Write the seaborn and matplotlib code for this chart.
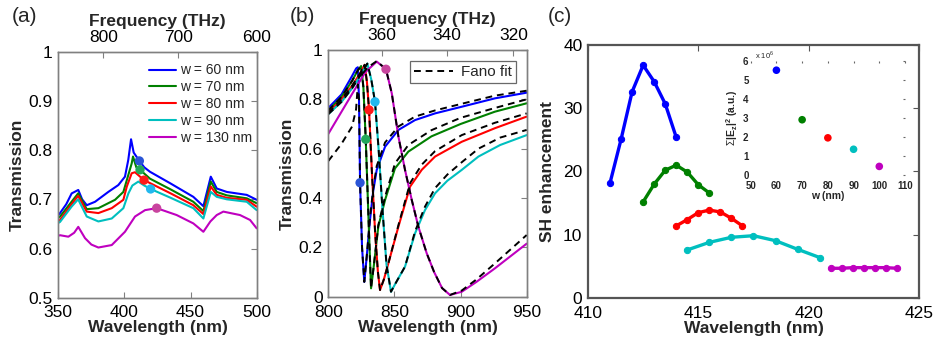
import numpy as np
import pandas as pd
import matplotlib
matplotlib.use("Agg")
import matplotlib.pyplot as plt
import seaborn as sns
from matplotlib.lines import Line2D

# ---------------- DATA ----------------
# Panel (a): transmission spectra
widths = ["w = 60 nm", "w = 70 nm", "w = 80 nm", "w = 90 nm", "w = 130 nm"]
a_lam60 = [350, 351.3, 356, 360.1, 365.1, 368, 371.5, 377.8, 387.8, 395.4, 400.4, 402.9, 405, 407, 411.3, 415, 419.3, 435, 452.1, 459.7, 465.3, 469.8, 477.4, 492.5, 500]
a_T60 = [0.668, 0.672, 0.69, 0.712, 0.719, 0.70, 0.688, 0.695, 0.715, 0.729, 0.746, 0.78, 0.822, 0.795, 0.778, 0.765, 0.756, 0.732, 0.705, 0.686, 0.746, 0.722, 0.715, 0.709, 0.699]
a_lam70 = [350, 351.3, 360, 365, 371.5, 380.3, 392.9, 399.2, 401.8, 405.5, 406.5, 409, 411.8, 419.3, 435, 452.1, 459.7, 465.3, 469.8, 477.4, 492.5, 500]
a_T70 = [0.662, 0.665, 0.695, 0.712, 0.68, 0.682, 0.699, 0.715, 0.739, 0.773, 0.787, 0.765, 0.760, 0.742, 0.72, 0.695, 0.676, 0.736, 0.715, 0.708, 0.702, 0.692]
a_lam80 = [350, 351.3, 360, 365, 371.5, 380.3, 390.4, 399.2, 401.8, 405.5, 408, 414.8, 419.3, 435, 452.1, 459.7, 465.3, 469.8, 477.4, 492.5, 500]
a_T80 = [0.655, 0.658, 0.69, 0.707, 0.675, 0.672, 0.682, 0.699, 0.726, 0.753, 0.755, 0.739, 0.733, 0.712, 0.688, 0.670, 0.726, 0.709, 0.703, 0.699, 0.685]
a_lam90 = [350, 351.3, 360, 365, 371.5, 380.3, 390.4, 399.2, 403, 406, 410.5, 415, 419.8, 435, 452.1, 459.7, 465.3, 469.8, 477.4, 492.5, 500]
a_T90 = [0.652, 0.654, 0.685, 0.70, 0.665, 0.655, 0.661, 0.682, 0.712, 0.728, 0.736, 0.728, 0.721, 0.703, 0.682, 0.661, 0.715, 0.705, 0.70, 0.695, 0.678]
a_lam130 = [350, 351.3, 357.6, 362, 365.1, 370.2, 375, 380.3, 390.4, 400.4, 408, 415.6, 424.4, 439.5, 452.1, 459.7, 465, 469.8, 474.8, 487.4, 495, 500]
a_T130 = [0.626, 0.627, 0.624, 0.632, 0.644, 0.621, 0.608, 0.602, 0.607, 0.634, 0.665, 0.678, 0.682, 0.668, 0.651, 0.634, 0.655, 0.668, 0.675, 0.668, 0.658, 0.641]
a_dot_lam = [411.3, 411.8, 414.8, 419.8, 424.4]
a_dot_T = [0.778, 0.760, 0.739, 0.721, 0.682]
a_freq_labels = ["800", "700", "600"]
a_freq_pos = [384.0, 440.8, 500.0]

# Panel (b): transmission near Fano resonance, simulation and Fano fit
b_lam60 = [800, 810, 818, 821, 822.3, 823.2, 824, 825.5, 827.2, 829, 831.5, 834, 836.6, 842.9, 853, 865.6, 880.7, 900.9, 926, 950]
b_T60 = [0.765, 0.82, 0.895, 0.925, 0.93, 0.80, 0.462, 0.20, 0.06, 0.16, 0.311, 0.43, 0.514, 0.608, 0.676, 0.716, 0.743, 0.77, 0.804, 0.827]
b_fit60 = [0.55, 0.62, 0.69, 0.76, 0.86, 0.80, 0.462, 0.20, 0.06, 0.16, 0.32, 0.44, 0.53, 0.625, 0.69, 0.73, 0.755, 0.782, 0.815, 0.835]
b_lam70 = [800, 810, 818, 822, 824.8, 826.5, 828.3, 830.5, 832.3, 834.5, 837.8, 842.9, 850.4, 860.5, 878, 900, 926, 950]
b_T70 = [0.755, 0.81, 0.875, 0.915, 0.935, 0.85, 0.638, 0.30, 0.034, 0.13, 0.284, 0.392, 0.52, 0.588, 0.65, 0.70, 0.75, 0.784]
b_fit70 = [0.755, 0.81, 0.875, 0.915, 0.935, 0.85, 0.638, 0.30, 0.034, 0.13, 0.29, 0.405, 0.54, 0.615, 0.675, 0.725, 0.765, 0.80]
b_lam80 = [800, 810, 818, 824, 827.5, 829.2, 830.8, 833, 835.5, 837.5, 839.1, 842, 845.4, 853, 861.8, 870.6, 880.7, 900.9, 926, 950]
b_T80 = [0.745, 0.80, 0.855, 0.905, 0.94, 0.87, 0.757, 0.50, 0.25, 0.10, 0.027, 0.07, 0.135, 0.284, 0.446, 0.514, 0.568, 0.628, 0.683, 0.73]
b_fit80 = [0.745, 0.80, 0.855, 0.905, 0.94, 0.87, 0.757, 0.50, 0.25, 0.10, 0.027, 0.07, 0.135, 0.29, 0.46, 0.535, 0.59, 0.655, 0.705, 0.743]
b_lam90 = [800, 810, 818, 824, 829.5, 832.5, 835.3, 838, 841, 844, 847.4, 850.4, 858, 865.6, 873.1, 880.7, 890, 900.9, 913.5, 930, 950]
b_T90 = [0.74, 0.79, 0.845, 0.895, 0.945, 0.88, 0.79, 0.60, 0.35, 0.13, 0.02, 0.05, 0.122, 0.257, 0.351, 0.419, 0.47, 0.514, 0.568, 0.615, 0.655]
b_fit90 = [0.74, 0.79, 0.845, 0.895, 0.945, 0.88, 0.79, 0.60, 0.35, 0.13, 0.02, 0.05, 0.122, 0.265, 0.365, 0.44, 0.495, 0.545, 0.60, 0.645, 0.676]
b_lam130 = [800, 810, 820, 828, 836.6, 843.6, 848, 853, 858, 863.1, 868.1, 874.4, 880, 886, 892, 900.9, 912, 926, 950]
b_T130 = [0.66, 0.75, 0.84, 0.91, 0.953, 0.922, 0.824, 0.649, 0.514, 0.392, 0.284, 0.176, 0.10, 0.035, 0.007, 0.02, 0.06, 0.115, 0.215]
b_fitlam130 = [826, 830, 836.6, 843.6, 848, 853, 858, 863.1, 868.1, 874.4, 880, 886, 892, 900.9, 912, 926, 950]
b_fit130 = [0.905, 0.93, 0.955, 0.922, 0.824, 0.649, 0.514, 0.392, 0.284, 0.176, 0.10, 0.035, 0.007, 0.025, 0.07, 0.135, 0.25]
b_dot_lam = [824, 828.3, 830.8, 835.3, 843.6]
b_dot_T = [0.462, 0.638, 0.757, 0.79, 0.922]
b_freq_labels = ["360", "340", "320"]
b_freq_pos = [840.4, 889.6, 939.9]

# Panel (c): SH enhancement
c_lam60 = [411.0, 411.5, 412.0, 412.5, 413.0, 413.5, 414.0]
c_sh60 = [18.2, 25.1, 32.6, 36.8, 34.2, 30.7, 25.4]
c_lam70 = [412.5, 413.0, 413.5, 414.0, 414.5, 415.0, 415.5]
c_sh70 = [15.2, 18.0, 20.2, 21.0, 19.9, 17.9, 16.6]
c_lam80 = [414.0, 414.5, 415.0, 415.5, 416.0, 416.5, 417.0]
c_sh80 = [11.4, 12.4, 13.5, 13.9, 13.6, 12.6, 11.4]
c_lam90 = [414.5, 415.5, 416.5, 417.5, 418.5, 419.5, 420.5]
c_sh90 = [7.6, 8.8, 9.6, 9.85, 9.06, 7.7, 6.4]
c_lam130 = [421.0, 421.5, 422.0, 422.5, 423.0, 423.5, 424.0]
c_sh130 = [4.7, 4.7, 4.8, 4.8, 4.8, 4.8, 4.7]
inset_w = [60, 70, 80, 90, 100]
inset_E = [5.5, 2.9, 1.95, 1.35, 0.45]

line_colors = ["#0000ff", "#008000", "#ff0000", "#00bfbf", "#bf00bf"]
dot_colors = ["#2a55d6", "#22a85a", "#ff1a1a", "#22b8ee", "#c8449e"]
inset_colors = ["#0000ff", "#008000", "#ff0000", "#00bfbf", "#bf00bf"]

# ---------------- STYLE ----------------
sns.set_theme(style="white")
plt.rcParams["font.family"] = ["Liberation Sans", "DejaVu Sans"]
plt.rcParams["mathtext.fontset"] = "custom"
plt.rcParams["mathtext.rm"] = "Liberation Sans"
plt.rcParams["mathtext.bf"] = "Liberation Sans:bold"

fig = plt.figure(figsize=(9.33, 3.45), dpi=100)
fig.patch.set_facecolor("white")

axA = fig.add_axes([0.0625, 0.1371, 0.2126, 0.713])
axB = fig.add_axes([0.3519, 0.1400, 0.2126, 0.7151])
axC = fig.add_axes([0.6302, 0.1362, 0.3548, 0.7334])
axIn = fig.add_axes([0.8046, 0.4928, 0.1654, 0.3313])

TICK_FS = 12.5

def style_frame(ax, color, lw):
    for s in ax.spines.values():
        s.set_color(color)
        s.set_linewidth(lw)
    ax.tick_params(direction="in", length=4, width=0.8, color=color,
                   labelsize=TICK_FS, labelcolor="black")

# ---------------- PANEL A ----------------
a_sets = [(a_lam60, a_T60), (a_lam70, a_T70), (a_lam80, a_T80), (a_lam90, a_T90), (a_lam130, a_T130)]
for (lx, ty), col in zip(a_sets, line_colors):
    sns.lineplot(x=lx, y=ty, color=col, lw=1.5, ax=axA, estimator=None, sort=False)
sns.scatterplot(x=a_dot_lam, y=a_dot_T, hue=widths, palette=dot_colors, s=45,
                edgecolor="none", ax=axA, legend=False, zorder=5)
axA.set_xlim(350, 500)
axA.set_ylim(0.5, 1.0)
axA.set_xticks([350, 400, 450, 500])
axA.set_yticks([0.5, 0.6, 0.7, 0.8, 0.9, 1.0])
axA.set_yticklabels(["0.5", "0.6", "0.7", "0.8", "0.9", "1"])
style_frame(axA, "#808080", 1.0)
axA.tick_params(axis="y", right=True, pad=4)
axA.tick_params(axis="x", pad=5)
axA.set_xlabel("Wavelength (nm)", fontsize=12.5, fontweight="bold", labelpad=0)
axA.set_ylabel("Transmission", fontsize=12.5, fontweight="bold", labelpad=3)
handles = [Line2D([0], [0], color=c, lw=1.5) for c in line_colors]
axA.legend(handles, widths, loc="upper left", bbox_to_anchor=(0.43, 0.975),
           frameon=False, fontsize=10, handlelength=1.9, handletextpad=0.3,
           labelspacing=0.2, borderaxespad=0)
topA = axA.twiny()
topA.set_xlim(350, 500)
topA.set_xticks(a_freq_pos)
topA.set_xticklabels(a_freq_labels)
style_frame(topA, "#808080", 1.0)
topA.tick_params(axis="x", pad=5)
topA.set_xlabel("Frequency (THz)", fontsize=12.5, fontweight="bold", labelpad=3)

# ---------------- PANEL B ----------------
b_sets = [(b_lam60, b_T60, b_lam60, b_fit60), (b_lam70, b_T70, b_lam70, b_fit70),
          (b_lam80, b_T80, b_lam80, b_fit80), (b_lam90, b_T90, b_lam90, b_fit90),
          (b_lam130, b_T130, b_fitlam130, b_fit130)]
for (lx, ty, fx, fy), col in zip(b_sets, line_colors):
    sns.lineplot(x=lx, y=ty, color=col, lw=1.5, ax=axB, estimator=None, sort=False, zorder=2)
for (lx, ty, fx, fy), col in zip(b_sets, line_colors):
    sns.lineplot(x=fx, y=fy, color="black", lw=1.4, ax=axB, estimator=None, sort=False,
                 linestyle=(0, (3.5, 2.5)), zorder=3)
sns.scatterplot(x=b_dot_lam, y=b_dot_T, hue=widths, palette=dot_colors, s=45,
                edgecolor="none", ax=axB, legend=False, zorder=5)
axB.set_xlim(800, 950)
axB.set_ylim(0, 1.0)
axB.set_xticks([800, 850, 900, 950])
axB.set_yticks([0, 0.2, 0.4, 0.6, 0.8, 1.0])
axB.set_yticklabels(["0", "0.2", "0.4", "0.6", "0.8", "1"])
style_frame(axB, "#808080", 1.0)
axB.tick_params(axis="y", right=True, pad=4)
axB.tick_params(axis="x", pad=6)
axB.set_xlabel("Wavelength (nm)", fontsize=12.5, fontweight="bold", labelpad=0)
axB.set_ylabel("Transmission", fontsize=12.5, fontweight="bold", labelpad=3)
fit_handle = [Line2D([0], [0], color="black", lw=1.4, linestyle=(0, (3.5, 2.5)))]
legB = axB.legend(fit_handle, ["Fano fit"], loc="upper right", bbox_to_anchor=(0.945, 0.955),
                  frameon=True, fancybox=False, fontsize=11, handlelength=2.6,
                  handletextpad=0.5, borderpad=0.25, borderaxespad=0)
legB.get_frame().set_edgecolor("#444444")
legB.get_frame().set_linewidth(0.9)
topB = axB.twiny()
topB.set_xlim(800, 950)
topB.set_xticks(b_freq_pos)
topB.set_xticklabels(b_freq_labels)
style_frame(topB, "#808080", 1.0)
topB.tick_params(axis="x", pad=5)
topB.set_xlabel("Frequency (THz)", fontsize=12.5, fontweight="bold", labelpad=3)

# ---------------- PANEL C ----------------
c_sets = [(c_lam60, c_sh60), (c_lam70, c_sh70), (c_lam80, c_sh80), (c_lam90, c_sh90), (c_lam130, c_sh130)]
for (lx, sy), col in zip(c_sets, line_colors):
    sns.lineplot(x=lx, y=sy, color=col, lw=2.4, marker="o", markersize=4.5,
                 markeredgecolor=col, ax=axC, estimator=None, sort=False)
axC.set_xlim(410, 425)
axC.set_ylim(0, 40)
axC.set_xticks([410, 415, 420, 425])
axC.set_yticks([0, 10, 20, 30, 40])
style_frame(axC, "#555555", 1.6)
axC.tick_params(top=True, right=True)
axC.tick_params(axis="y", pad=4)
axC.tick_params(axis="x", pad=6)
axC.set_xlabel("Wavelength (nm)", fontsize=12.5, fontweight="bold", labelpad=0)
axC.set_ylabel("SH enhancement", fontsize=12.5, fontweight="bold", labelpad=6)

# inset
axIn.set_facecolor("none")
sns.scatterplot(x=inset_w, y=inset_E, hue=widths, palette=inset_colors, s=30,
                edgecolor="none", ax=axIn, legend=False)
axIn.set_xlim(50, 110)
axIn.set_ylim(0, 6)
axIn.set_xticks([50, 60, 70, 80, 90, 100, 110])
axIn.set_yticks([0, 1, 2, 3, 4, 5, 6])
for s in axIn.spines.values():
    s.set_visible(False)
axIn.tick_params(direction="in", length=1.5, width=0.8, color="#666666",
                 labelsize=7, pad=1.5, top=True, right=True)
axIn.tick_params(axis="x", pad=4)
for lab in axIn.get_xticklabels() + axIn.get_yticklabels():
    lab.set_fontweight("bold")
axIn.set_xlabel("w (nm)", fontsize=7.5, fontweight="bold", labelpad=0)
axIn.set_ylabel(r"$\Sigma$|E$_\mathbf{z}$|$^\mathbf{2}$ (a.u.)", fontsize=7.5,
                fontweight="bold", labelpad=2)
axIn.text(51.5, 6.0, r"x 10$^6$", fontsize=5.5, va="bottom", ha="left")

# panel labels
fig.text(0.026, 0.953, "(a)", fontsize=15, ha="center", va="center")
fig.text(0.324, 0.953, "(b)", fontsize=15, ha="center", va="center")
fig.text(0.600, 0.953, "(c)", fontsize=15, ha="center", va="center")

fig.savefig("out.png", dpi=100, facecolor="white")
